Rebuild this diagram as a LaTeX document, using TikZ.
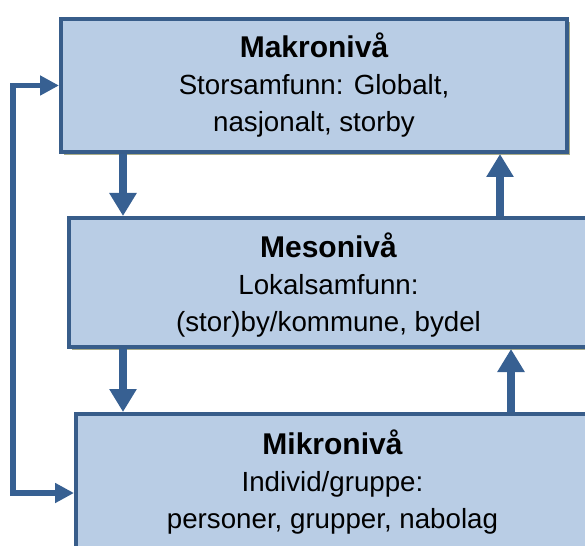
\documentclass[tikz,border=0pt]{standalone}
\usepackage{fontspec}
\setmainfont{Liberation Sans}
\usetikzlibrary{arrows.meta,shadows}
\definecolor{boxfill}{HTML}{B9CDE5}
\definecolor{boxline}{HTML}{385D8A}
\definecolor{arrowcol}{HTML}{376092}
\definecolor{shadowcol}{HTML}{A9AC88}
\newcommand{\lvltitle}[1]{{\fontsize{30}{37}\selectfont\bfseries #1}}
\begin{document}
\begin{tikzpicture}[x=1pt,y=-1pt,
  levelbox/.style={draw=boxline, line width=4pt, fill=boxfill, inner sep=0pt,
    drop shadow={shadow xshift=3pt, shadow yshift=-3pt, fill=shadowcol, opacity=1}},
  leveltext/.style={align=center, inner sep=0pt, font=\fontsize{27.7}{37}\selectfont},
  vertarrow/.style={draw=arrowcol, line width=8.5pt, -{Triangle[width=26pt,length=23pt,fill=arrowcol]}},
  looparrow/.style={draw=arrowcol, line width=5.5pt, line join=miter,
    {Triangle[width=19pt,length=19pt,fill=arrowcol]}-{Triangle[width=19pt,length=19pt,fill=arrowcol]}}
]
\useasboundingbox (0,0) rectangle (585,545);
\begin{scope}
\clip (0,0) rectangle (585,545);
\node[levelbox, minimum width=506pt, minimum height=133pt] (makro) at (314,85.5) {};
\node[levelbox, minimum width=519pt, minimum height=129pt] (meso) at (328.5,282.5) {};
\node[levelbox, minimum width=513pt, minimum height=137pt] (mikro) at (332.5,482.5) {};

\node[leveltext] (makrotext) at (314,85) {\lvltitle{Makronivå}\\Storsamfunn: Globalt,\\nasjonalt, storby};
\node[leveltext] (mesotext) at (328.5,285.5) {\lvltitle{Mesonivå}\\Lokalsamfunn:\\(stor)by/kommune, bydel};
\node[leveltext] (mikrotext) at (332.5,482) {\lvltitle{Mikronivå}\\Individ/gruppe:\\personer, grupper, nabolag};

\coordinate (xdown) at (123,0);
\coordinate (xupa) at (500,0);
\coordinate (xupb) at (511,0);
\coordinate (lx) at (13,0);
\coordinate (my) at (0,493);

\draw[vertarrow] (makro.south -| xdown) -- (meso.north -| xdown);
\draw[vertarrow] (meso.north -| xupa) -- (makro.south -| xupa);
\draw[vertarrow] (meso.south -| xdown) -- (mikro.north -| xdown);
\draw[vertarrow] (mikro.north -| xupb) -- (meso.south -| xupb);
\draw[looparrow] (makro.west) -- (makro.west -| lx) -- (lx |- my) -- (mikro.west |- my);
\end{scope}
\end{tikzpicture}
\end{document}
